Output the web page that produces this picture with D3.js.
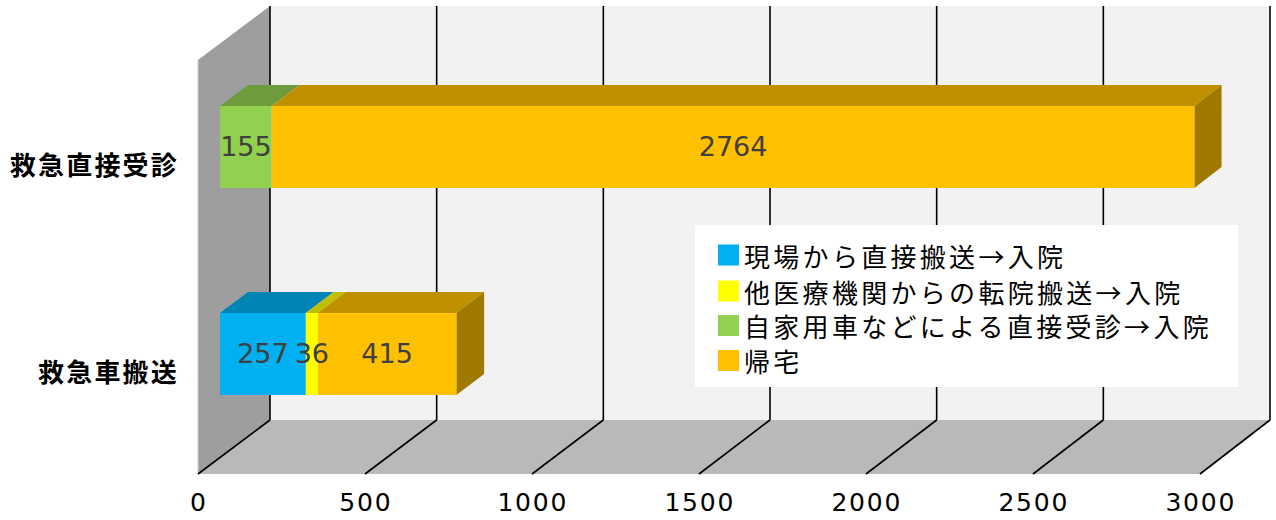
<!DOCTYPE html>
<html>
<head>
<meta charset="utf-8">
<script src="https://cdn.jsdelivr.net/npm/d3@7"></script>
<style>
  body { margin: 0; background: #fff; }
  svg { display: block; }
</style>
</head>
<body>
<svg id="canvas" width="1276" height="520"></svg>
<script>
// data
let categories = ['救急直接受診', '救急車搬送']
let seriesNames = ['現場から直接搬送→入院', '他医療機関からの転院搬送→入院', '自家用車などによる直接受診→入院', '帰宅']
let seriesColors = ['#00B0F0', '#FFFF00', '#92D050', '#FFC000']
// one array per series, same order as categories
let genbaValues = [0, 257]
let teninValues = [0, 36]
let jikayoValues = [155, 0]
let kitakuValues = [2764, 415]
let xTicks = [0, 500, 1000, 1500, 2000, 2500, 3000]

let seriesValues = [genbaValues, teninValues, jikayoValues, kitakuValues]

let canvas = d3.select('#canvas')

// 3d box: front plane and back plane scales
let xFront = d3.scaleLinear().domain([0, 3000]).range([198, 1200])
let xBack = d3.scaleLinear().domain([0, 3000]).range([270, 1270])
let depthY = 54
let yFront = d3.scalePoint().domain(categories).range([60, 474]).padding(0.5)
let barHalf = yFront.step() * 0.198
let d0 = 0.306, d1 = 0.694

let X = (v, d) => xFront(v) * (1 - d) + xBack(v) * d
let Y = (y, d) => y - depthY * d
let pts = (arr) => arr.map(p => p.join(',')).join(' ')

// walls
canvas.append('rect')
  .attr('x', xBack(0)).attr('y', Y(60, 1))
  .attr('width', xBack(3000) - xBack(0)).attr('height', 474 - 60)
  .attr('fill', '#f2f2f2')

canvas.append('polygon')
  .attr('points', pts([[xFront(0), 60], [xBack(0), Y(60, 1)], [xBack(0), Y(474, 1)], [xFront(0), 474]]))
  .attr('fill', '#9e9e9e')
canvas.append('line')
  .attr('x1', xFront(0)).attr('y1', 60).attr('x2', xFront(0)).attr('y2', 474)
  .attr('stroke', '#cfcfcf').attr('stroke-width', 1)

canvas.append('polygon')
  .attr('points', pts([[xFront(0), 474], [xFront(3000), 474], [xBack(3000), Y(474, 1)], [xBack(0), Y(474, 1)]]))
  .attr('fill', '#b9b9b9')

// gridlines
let grid = canvas.append('g').attr('stroke', '#000').attr('stroke-width', 1.6)
grid.selectAll('.vline').data(xTicks).enter().append('line')
  .attr('x1', v => xBack(v)).attr('x2', v => xBack(v))
  .attr('y1', Y(60, 1)).attr('y2', Y(474, 1))
grid.selectAll('.dline').data(xTicks).enter().append('line')
  .attr('x1', v => xBack(v)).attr('y1', Y(474, 1))
  .attr('x2', v => xFront(v)).attr('y2', 474)

// legend
let legend = canvas.append('g')
legend.append('rect')
  .attr('x', 695).attr('y', 225).attr('width', 543).attr('height', 162)
  .attr('fill', '#fff')
let legendRows = [255, 291, 325.5, 360.5]
seriesNames.forEach((name, i) => {
  legend.append('rect')
    .attr('x', 718).attr('y', legendRows[i] - 10.5)
    .attr('width', 21).attr('height', 21)
    .attr('fill', seriesColors[i])
  legend.append('text')
    .attr('x', 744).attr('y', legendRows[i])
    .attr('dominant-baseline', 'central')
    .attr('font-family', '"Noto Sans CJK JP"')
    .attr('font-size', 26)
    .attr('letter-spacing', 3.3)
    .attr('fill', '#000')
    .text(name)
})

// bars
let segments = []
categories.forEach((cat, ci) => {
  let acc = 0
  let list = []
  seriesValues.forEach((vals, si) => {
    let v = vals[ci]
    if (v > 0) {
      list.push({ cat: cat, x0: acc, x1: acc + v, value: v, color: seriesColors[si] })
      acc += v
    }
  })
  list[list.length - 1].last = true
  segments = segments.concat(list)
})

let bars = canvas.append('g')
segments.forEach((s) => {
  let c = yFront(s.cat)
  let top = c - barHalf, bot = c + barHalf
  let base = d3.color(s.color)
  bars.append('polygon')
    .attr('points', pts([[X(s.x0, d0), Y(top, d0)], [X(s.x1, d0), Y(top, d0)], [X(s.x1, d1), Y(top, d1)], [X(s.x0, d1), Y(top, d1)]]))
    .attr('fill', base.darker(0.8))
  if (s.last) {
    bars.append('polygon')
      .attr('points', pts([[X(s.x1, d0), Y(top, d0)], [X(s.x1, d1), Y(top, d1)], [X(s.x1, d1), Y(bot, d1)], [X(s.x1, d0), Y(bot, d0)]]))
      .attr('fill', base.darker(1.3))
  }
  bars.append('polygon')
    .attr('points', pts([[X(s.x0, d0), Y(top, d0)], [X(s.x1, d0), Y(top, d0)], [X(s.x1, d0), Y(bot, d0)], [X(s.x0, d0), Y(bot, d0)]]))
    .attr('fill', s.color)
})

// data labels
canvas.append('g').selectAll('text').data(segments).enter().append('text')
  .attr('x', s => X((s.x0 + s.x1) / 2, d0))
  .attr('y', s => Y(yFront(s.cat), d0))
  .attr('text-anchor', 'middle')
  .attr('dominant-baseline', 'central')
  .attr('font-family', '"DejaVu Sans"')
  .attr('font-size', 27)
  .attr('fill', '#404040')
  .text(s => s.value)

// category labels
canvas.append('g').selectAll('text').data(categories).enter().append('text')
  .attr('x', 179)
  .attr('y', c => yFront(c))
  .attr('text-anchor', 'end')
  .attr('dominant-baseline', 'central')
  .attr('font-family', '"Noto Sans CJK JP"')
  .attr('font-weight', 'bold')
  .attr('font-size', 26)
  .attr('letter-spacing', 2.2)
  .attr('fill', '#000')
  .text(c => c)

// x tick labels
canvas.append('g').selectAll('text').data(xTicks).enter().append('text')
  .attr('x', v => xFront(v) + 0.8)
  .attr('y', 502)
  .attr('text-anchor', 'middle')
  .attr('dominant-baseline', 'central')
  .attr('font-family', '"DejaVu Sans"')
  .attr('font-size', 25)
  .attr('letter-spacing', 1.8)
  .attr('fill', '#000')
  .text(v => v)
</script>
</body>
</html>
